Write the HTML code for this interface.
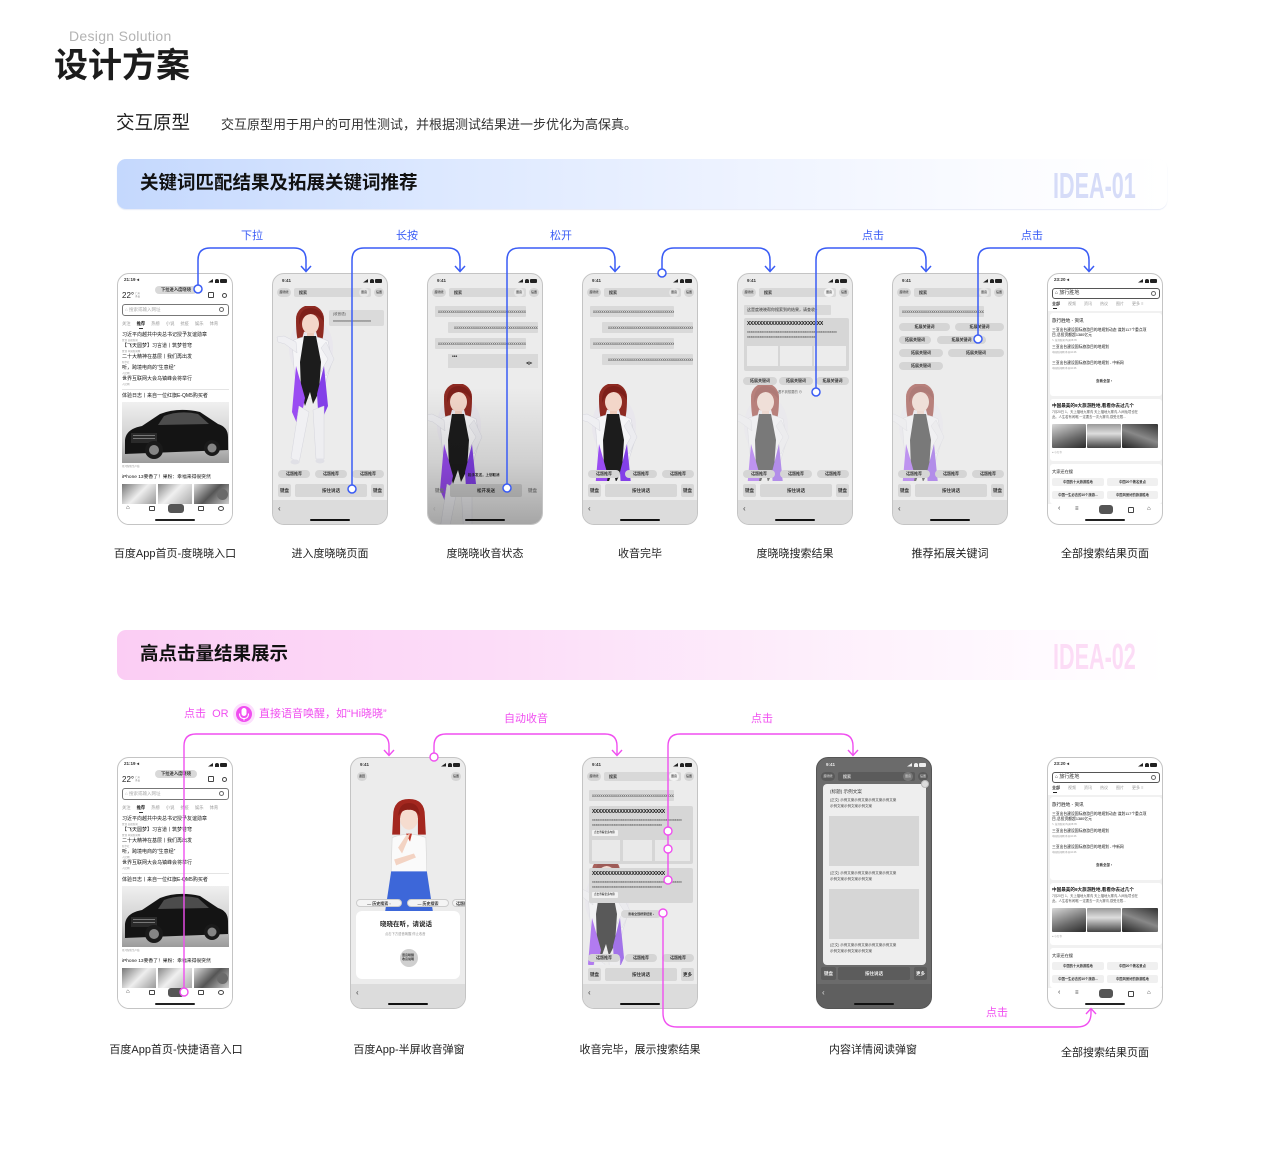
<!DOCTYPE html>
<html><head><meta charset="utf-8">
<style>
*{margin:0;padding:0;box-sizing:border-box}
body{width:1280px;height:1175px;background:#fff;position:relative;overflow:hidden;font-family:"Liberation Sans","Noto Sans CJK SC",sans-serif;}
.a{position:absolute}
.t{position:absolute;white-space:nowrap;line-height:1;color:#333}
.b{font-weight:bold}
.ph{position:absolute;width:116px;height:252px;border:1px solid #c4c4c4;border-radius:12px;overflow:hidden;background:#ececec}
.ph.w{background:#fff}
.bx{position:absolute;background:#d7d7d7;border-radius:2px;font-size:4.5px;font-weight:bold;color:#333;text-align:center;white-space:nowrap;overflow:hidden;height:13px;line-height:13px}
.cp{position:absolute;background:#d5d5d5;border-radius:5px;height:8px;line-height:8px;font-size:4px;font-weight:bold;color:#333;text-align:center;white-space:nowrap;overflow:hidden}
.bu{position:absolute;background:#d9d9d9;height:11px;font-size:4.2px;line-height:11px;padding-left:3px;color:#444;overflow:hidden;white-space:nowrap;border-radius:1px}
.nav{position:absolute;left:0;right:0;top:226px;bottom:0;background:#dcdcdc}
.bk{position:absolute;left:5px;top:231px;font-size:8px;color:#444;line-height:1}
.hb{position:absolute;left:37px;width:40px;height:2px;bottom:3px;background:#111;border-radius:1px}
.s1{position:absolute;top:5px;right:19px;width:5px;height:3.5px;background:#222;clip-path:polygon(100% 0,100% 100%,0 100%)}
.s2{position:absolute;top:5px;right:13px;width:4px;height:3.5px;background:#222;border-radius:50% 50% 0 0}
.s3{position:absolute;top:5px;right:5px;width:7px;height:3.5px;background:#222;border-radius:1px}
.hc{position:absolute;top:14px;height:9px;border-radius:5px;background:#d6d6d6;font-size:3px;line-height:9px;text-align:center;color:#444;font-weight:bold;white-space:nowrap;overflow:hidden}
.sbar{position:absolute;left:21px;top:14px;width:77px;height:9px;background:#d8d8d8;border-radius:2px}
.lb{position:absolute;width:200px;text-align:center;font-size:11px;color:#222;white-space:nowrap;line-height:14px}
.bot{position:absolute;left:0;top:207px;width:116px;height:20px;background:#ececec}
.nl{position:absolute;left:4px;font-size:5px;color:#111;white-space:nowrap;line-height:1}
.mt{position:absolute;left:4px;font-size:2.5px;color:#999;white-space:nowrap;line-height:1}
.tb span{display:inline-block;width:14.6px}
.img{position:absolute;background:linear-gradient(160deg,#d8d8d8,#6a6a6a 60%,#2a2a2a);border-radius:1px}
</style></head><body>

<svg width="0" height="0" style="position:absolute">
<defs>
<symbol id="g1" viewBox="0 0 60 160">
 <ellipse cx="36" cy="42" rx="22" ry="30" fill="#e6e2ee" opacity=".5"/>
 <path d="M21,14 Q21,34 25,40 L30,22Z" fill="#8e2a22"/>
 <path d="M49,14 Q49,34 45,40 L40,22Z" fill="#8e2a22"/>
 <ellipse cx="35" cy="13" rx="14" ry="14" fill="#8e2a22"/>
 <ellipse cx="35.5" cy="18" rx="8.5" ry="10" fill="#f3d6c9"/>
 <path d="M24,15 Q25,2 36,2 Q48,3 49,16 Q43,7 35,8 Q28,9 24,19Z" fill="#7d1f19"/>
 <rect x="32" y="27" width="7" height="6" fill="#eecbbb"/>
 <path d="M17,35 Q35,26 53,35 L57,56 L52,72 L47,92 L23,92 L19,62Z" fill="#f5f5f7" stroke="#d6d6de" stroke-width=".6"/>
 <path d="M21,36 L9,30 L2,31 L3,36 L10,38 L22,47Z" fill="#efeff2" stroke="#d6d6de" stroke-width=".5"/>
 <path d="M51,36 L59,53 L51,70 L46,65 L53,53 L46,42Z" fill="#ececf0" stroke="#d6d6de" stroke-width=".5"/>
 <path d="M29,30 L41,30 L46,56 L44,86 L38,98 L35,86 L30,100 L26,86 L25,56Z" fill="#1c1c1c"/>
 <path d="M21,60 L17,106 L24,122 L30,92Z" fill="#9a4cf2"/>
 <path d="M49,60 L53,100 L44,120 L42,88Z" fill="#8340e8"/>
 <path d="M24,100 L16,152 L24,157 L34,106Z" fill="#f0f0f3" stroke="#d6d6de" stroke-width=".5"/>
 <path d="M38,104 L41,153 L49,153 L49,100Z" fill="#eeeef1" stroke="#d6d6de" stroke-width=".5"/>
 <ellipse cx="20" cy="156" rx="4.5" ry="2.5" fill="#e0e0e6"/>
 <ellipse cx="45" cy="155" rx="4.5" ry="2.5" fill="#e0e0e6"/>
</symbol>
<symbol id="g2" viewBox="0 0 50 115">
 <path d="M9,18 Q9,1 25,1 Q41,1 41,18 L42,37 L34,37 L34,20 L16,20 L16,37 L8,37Z" fill="#a3271f"/>
 <ellipse cx="25" cy="21" rx="9" ry="11" fill="#f5dccf"/>
 <path d="M14,18 Q15,5 25,5 Q35,5 36,18 Q30,11 25,12 Q19,11 14,18Z" fill="#8e1f18"/>
 <path d="M8,40 Q25,33 42,40 L43,76 L7,76Z" fill="#fafafa" stroke="#d6d6d6" stroke-width=".6"/>
 <path d="M22,36 L28,36 L26,44Z" fill="#c0392b"/>
 <path d="M14,50 L22,38 L26,36 L24,42 L18,56Z" fill="#f3d3c3"/>
 <path d="M10,62 L30,56 L32,60 L12,68Z" fill="#f3d3c3"/>
 <path d="M7,74 L43,74 L49,114 L1,114Z" fill="#3d67d9"/>
</symbol>
<symbol id="car" viewBox="0 0 107 61">
 <linearGradient id="cg" x1="0" y1="0" x2="0" y2="1"><stop offset="0" stop-color="#f0f0f0"/><stop offset=".6" stop-color="#cfcfcf"/><stop offset="1" stop-color="#9a9a9a"/></linearGradient>
 <rect width="107" height="61" fill="url(#cg)"/>
 <path d="M3,38 Q4,27 20,24 L38,12 Q56,5 78,10 L96,22 Q106,25 106,35 L106,48 L3,52Z" fill="#141414"/>
 <path d="M42,14 Q58,8 76,12 L87,22 L36,23Z" fill="#4c4c4c"/>
 <rect x="9" y="31" width="26" height="10" fill="#2a2a2a"/>
 <rect x="11" y="33" width="22" height="1" fill="#777"/>
 <rect x="11" y="36" width="22" height="1" fill="#777"/>
 <circle cx="32" cy="48" r="9" fill="#1a1a1a"/><circle cx="32" cy="48" r="5" fill="#858585"/>
 <circle cx="90" cy="46" r="8" fill="#1a1a1a"/><circle cx="90" cy="46" r="4.5" fill="#858585"/>
</symbol>
</defs>
</svg>

<!-- Header -->
<div class="t" style="left:69px;top:29px;font-size:14px;color:#b3b3b3;letter-spacing:.3px">Design Solution</div>
<div class="t b" style="left:54px;top:49px;font-size:34px;color:#1c1c1c">设计方案</div>
<div class="t" style="left:116px;top:114px;font-size:18.5px;color:#222">交互原型</div>
<div class="t" style="left:221px;top:118px;font-size:13px;color:#333">交互原型用于用户的可用性测试，并根据测试结果进一步优化为高保真。</div>

<!-- Banner 1 -->
<div class="a" style="left:117px;top:159px;width:1050px;height:50px;border-radius:9px;background:linear-gradient(90deg,#c4d8fd 0%,#dce8ff 30%,#eef3ff 60%,#fbfcff 85%,#ffffff 100%);box-shadow:0 1px 1px rgba(150,170,220,.25)"></div>
<div class="t b" style="left:140px;top:174px;font-size:18.5px;color:#111">关键词匹配结果及拓展关键词推荐</div>
<div class="t b" style="left:1053px;top:168px;font-size:36px;color:#d6dcf8;transform:scaleX(.6);transform-origin:0 0">IDEA-01</div>

<!-- Banner 2 -->
<div class="a" style="left:117px;top:630px;width:1050px;height:50px;border-radius:9px;background:linear-gradient(90deg,#fbcdf4 0%,#fcdcf8 35%,#fdeefb 65%,#fffaff 88%,#ffffff 100%)"></div>
<div class="t b" style="left:140px;top:645px;font-size:18.5px;color:#111">高点击量结果展示</div>
<div class="t b" style="left:1053px;top:639px;font-size:36px;color:#fcdcf6;transform:scaleX(.6);transform-origin:0 0">IDEA-02</div>

<!-- ===== ROW 1 ===== -->
<!-- Phone 1 home -->
<div class="ph w" style="left:117px;top:273px">
 <div class="t b" style="left:6px;top:4px;font-size:4.5px">21:19 ◂</div>
 <i class="s1"></i><i class="s2"></i><i class="s3"></i>
 <div class="a" style="left:37px;top:12px;width:42px;height:8px;border-radius:4px;background:#d9d9d9;font-size:4.3px;line-height:8px;text-align:center;color:#333;white-space:nowrap;font-weight:bold">下拉进入度晓晓</div>
 <div class="t" style="left:4px;top:18px;font-size:8px;color:#222">22°</div>
 <div class="t" style="left:17px;top:19px;font-size:2.5px;color:#888">广州<br>多云</div>
 <div class="a" style="left:90px;top:18px;width:6px;height:6px;border:1px solid #444;border-radius:1px"></div>
 <div class="a" style="left:104px;top:19px;width:5px;height:5px;border:1px solid #444;border-radius:50%"></div>
 <div class="a" style="left:4px;top:30px;width:107px;height:12px;border:1px solid #777;border-radius:3px"></div>
 <div class="t" style="left:7px;top:33.5px;font-size:4.5px;color:#aaa">⌂ 搜索或输入网址</div>
 <div class="a" style="left:101px;top:33px;width:5px;height:5px;border:.8px solid #666;border-radius:50%"></div>
 <div class="t tb" style="left:4px;top:48px;font-size:4.3px;color:#999"><span>关注</span><span style="color:#222;font-weight:bold">推荐</span><span>热榜</span><span>小说</span><span>抗疫</span><span>娱乐</span><span>体育</span></div>
 <div class="a" style="left:21px;top:54px;width:4px;height:1px;background:#333"></div>
 <div class="nl" style="top:59px">习近平向越共中央总书记授予友谊勋章</div><div class="mt" style="top:65.5px">置顶 央视新闻</div>
 <div class="nl" style="top:70px">【飞天圆梦】习言道丨筑梦苍穹</div><div class="mt" style="top:76.5px">置顶 中国新闻网</div>
 <div class="nl" style="top:81px">二十大精神在基层丨我们再出发</div><div class="mt" style="top:87.5px">新华社</div>
 <div class="nl" style="top:92px">听，跨境电商的“生意经”</div><div class="mt" style="top:98.5px">人民网</div>
 <div class="nl" style="top:103px">世界互联网大会乌镇峰会将举行</div><div class="mt" style="top:109.5px">人民网</div>
 <div class="a" style="left:4px;top:115px;width:107px;height:.6px;background:#e4e4e4"></div>
 <div class="nl" style="top:120px">体验日志丨来自一位红旗E-QM5购买者</div>
 <svg class="a" style="left:4px;top:128px" width="107" height="61"><use href="#car"/></svg>
 <div class="mt" style="top:192px">星河智能生产线</div>
 <div class="nl" style="top:202px;font-size:4.8px">iPhone 13要香了！果粉：幸福来得很突然</div>
 <div class="a" style="left:4px;top:210px;width:34px;height:20px;background:linear-gradient(135deg,#777,#eee 50%,#999)"></div>
 <div class="a" style="left:40px;top:210px;width:34px;height:20px;background:linear-gradient(135deg,#888,#f0f0f0 45%,#aaa)"></div>
 <div class="a" style="left:76px;top:210px;width:35px;height:20px;background:linear-gradient(135deg,#ddd,#555 50%,#ccc)"></div>
 <div class="a" style="left:99px;top:215px;width:11px;height:11px;border-radius:50%;background:#6a6a6a"></div>
 <div class="a" style="left:0;top:230px;width:116px;height:22px;background:#fff"></div>
 <div class="t" style="left:8px;top:231px;font-size:6px;color:#333">⌂</div>
 <div class="a" style="left:31px;top:232px;width:6px;height:5px;border:1px solid #444;border-radius:1px"></div>
 <div class="a" style="left:50px;top:230px;width:16px;height:9px;border-radius:3px;background:#555"></div>
 <div class="a" style="left:80px;top:232px;width:6px;height:5px;border:1px solid #444;border-radius:1px"></div>
 <div class="a" style="left:100px;top:232px;width:6px;height:5px;border:1px solid #444;border-radius:50%"></div>
 <div class="hb" style="background:#222"></div>
</div>

<!-- Phone 2 -->
<div class="ph" style="left:272px;top:273px">
 <div class="t b" style="left:9px;top:5px;font-size:4.5px">9:41</div>
 <i class="s1"></i><i class="s2"></i><i class="s3"></i>
 <div class="hc" style="left:4px;width:14px">度晓晓</div>
 <div class="sbar"></div><div class="t b" style="left:26px;top:16.5px;font-size:4px">搜索</div>
 <div class="hc" style="left:86px;width:10px;background:#e6e6e6">语音</div>
 <div class="hc" style="left:101px;width:10px">设置</div>
 <div class="a" style="left:56px;top:36px;width:55px;height:16px;background:#dadada;border-radius:2px"></div>
 <div class="t" style="left:60px;top:39px;font-size:3.5px;color:#555">(收音语)</div>
 <div class="t" style="left:60px;top:45px;font-size:4px;color:#444">xxxxxxxxxxxxxxxxxxx</div>
 <svg class="a" style="left:2px;top:32px" width="60" height="160"><use href="#g1"/></svg>
 <div class="cp" style="left:5px;top:196px;width:32px">话题推荐</div>
 <div class="cp" style="left:42px;top:196px;width:32px">话题推荐</div>
 <div class="cp" style="left:79px;top:196px;width:32px">话题推荐</div>
 <div class="bx" style="left:5px;top:210px;width:13px">键盘</div>
 <div class="bx" style="left:22px;top:210px;width:72px">按住说话</div>
 <div class="bx" style="left:98px;top:210px;width:13px">键盘</div>
 <div class="nav"></div><div class="bk">‹</div><div class="hb"></div>
</div>

<!-- Phone 3 -->
<div class="ph" style="left:427px;top:273px">
 <div class="t b" style="left:9px;top:5px;font-size:4.5px">9:41</div>
 <i class="s1"></i><i class="s2"></i><i class="s3"></i>
 <div class="hc" style="left:4px;width:14px">度晓晓</div>
 <div class="sbar"></div><div class="t b" style="left:26px;top:16.5px;font-size:4px">搜索</div>
 <div class="hc" style="left:86px;width:10px;background:#e6e6e6">语音</div>
 <div class="hc" style="left:101px;width:10px">设置</div>
 <div class="bu" style="left:7px;top:32px;width:91px">xxxxxxxxxxxxxxxxxxxxxxxxxxxxxxxxxxxxxxxxxxxx</div>
 <div class="bu" style="left:20px;top:48px;width:90px;padding-left:6px">xxxxxxxxxxxxxxxxxxxxxxxxxxxxxxxxxxxxxxxxxxxxx</div>
 <div class="bu" style="left:7px;top:64px;width:91px">xxxxxxxxxxxxxxxxxxxxxxxxxxxxxxxxxxxxxxxxxxxx</div>
 <div class="a" style="left:20px;top:80px;width:90px;height:14px;background:#d9d9d9"></div>
 <div class="t b" style="left:24px;top:81px;font-size:5px">•••</div>
 <div class="t b" style="left:98px;top:87px;font-size:4px">◂||▸</div>
 <svg class="a" style="left:-5px;top:110px" width="60" height="160"><use href="#g1"/></svg>
 <div class="t b" style="left:40px;top:200px;font-size:3.5px;color:#222">松手发送，上划取消</div>
 <div class="bx" style="left:5px;top:210px;width:13px;background:transparent;color:#888">键盘</div>
 <div class="bx" style="left:22px;top:210px;width:72px;background:#d2d2d2">松开发送</div>
 <div class="bx" style="left:98px;top:210px;width:13px;background:transparent;color:#888">键盘</div>
 <div class="a" style="left:0;top:0;width:116px;height:252px;background:linear-gradient(to bottom,rgba(0,0,0,0) 45%,rgba(0,0,0,.12) 75%,rgba(0,0,0,.3) 100%)"></div>
 <div class="bk" style="color:#999">‹</div><div class="hb"></div>
</div>

<!-- Phone 4 -->
<div class="ph" style="left:582px;top:273px">
 <div class="t b" style="left:9px;top:5px;font-size:4.5px">9:41</div>
 <i class="s1"></i><i class="s2"></i><i class="s3"></i>
 <div class="hc" style="left:4px;width:14px">度晓晓</div>
 <div class="sbar"></div><div class="t b" style="left:26px;top:16.5px;font-size:4px">搜索</div>
 <div class="hc" style="left:86px;width:10px;background:#e6e6e6">语音</div>
 <div class="hc" style="left:101px;width:10px">设置</div>
 <div class="bu" style="left:7px;top:32px;width:84px">xxxxxxxxxxxxxxxxxxxxxxxxxxxxxxxxxxxxxxxxxxxx</div>
 <div class="bu" style="left:19px;top:48px;width:91px;padding-left:6px">xxxxxxxxxxxxxxxxxxxxxxxxxxxxxxxxxxxxxxxxxxxxx</div>
 <div class="bu" style="left:7px;top:64px;width:84px">xxxxxxxxxxxxxxxxxxxxxxxxxxxxxxxxxxxxxxxxxxxx</div>
 <div class="bu" style="left:19px;top:80px;width:91px;padding-left:6px">xxxxxxxxxxxxxxxxxxxxxxxxxxxxxxxxxxxxxxxxxxxxx</div>
 <svg class="a" style="left:-5px;top:110px" width="60" height="160"><use href="#g1"/></svg>
 <div class="bot"></div>
 <div class="cp" style="left:5px;top:196px;width:32px">话题推荐</div>
 <div class="cp" style="left:42px;top:196px;width:32px">话题推荐</div>
 <div class="cp" style="left:79px;top:196px;width:32px">话题推荐</div>
 <div class="bx" style="left:5px;top:210px;width:13px">键盘</div>
 <div class="bx" style="left:22px;top:210px;width:72px">按住说话</div>
 <div class="bx" style="left:98px;top:210px;width:13px">键盘</div>
 <div class="nav"></div><div class="bk">‹</div><div class="hb"></div>
</div>

<!-- Phone 5 -->
<div class="ph" style="left:737px;top:273px">
 <div class="t b" style="left:9px;top:5px;font-size:4.5px">9:41</div>
 <i class="s1"></i><i class="s2"></i><i class="s3"></i>
 <div class="hc" style="left:4px;width:14px">度晓晓</div>
 <div class="sbar"></div><div class="t b" style="left:26px;top:16.5px;font-size:4px">搜索</div>
 <div class="hc" style="left:86px;width:10px;background:#f2f2f2">语音</div>
 <div class="hc" style="left:101px;width:10px">设置</div>
 <div class="bu" style="left:6px;top:31px;width:87px;height:10px;line-height:10px;font-size:4px;color:#333">这是度晓晓帮你搜索到的结果，请查收~</div>
 <svg class="a" style="left:-8px;top:110px;opacity:.55" width="60" height="160"><use href="#g1"/></svg>
 <div class="a" style="left:6px;top:44px;width:105px;height:53px;background:#d6d6d6;border-radius:2px"></div>
 <div class="t b" style="left:9px;top:48px;font-size:5px;color:#111;letter-spacing:-.3px">XXXXXXXXXXXXXXXXXXXXXXXXX</div>
 <div class="t" style="left:9px;top:57px;font-size:3.6px;color:#444">xxxxxxxxxxxxxxxxxxxxxxxxxxxxxxxxxxxxxxxxxxxxxxxxxx</div>
 <div class="t" style="left:9px;top:62px;font-size:3.6px;color:#444">xxxxxxxxxxxxxxxxxxxxxxxxxxxxxxxxxxxxxx</div>
 <div class="a" style="left:9px;top:72px;width:31px;height:20px;background:#ececec"></div>
 <div class="a" style="left:42px;top:72px;width:32px;height:20px;background:#ececec"></div>
 <div class="a" style="left:76px;top:72px;width:32px;height:20px;background:#ececec"></div>
 <div class="cp" style="left:5px;top:103px;width:34px">拓展关键词</div>
 <div class="cp" style="left:41px;top:103px;width:34px">拓展关键词</div>
 <div class="cp" style="left:78px;top:103px;width:33px">拓展关键词</div>
 <div class="t" style="left:40px;top:117px;font-size:3.3px;color:#666">看不到想要的 ⊖</div>
 <div class="bot"></div>
 <div class="cp" style="left:5px;top:196px;width:32px">话题推荐</div>
 <div class="cp" style="left:42px;top:196px;width:32px">话题推荐</div>
 <div class="cp" style="left:79px;top:196px;width:32px">话题推荐</div>
 <div class="bx" style="left:5px;top:210px;width:13px">键盘</div>
 <div class="bx" style="left:22px;top:210px;width:72px">按住说话</div>
 <div class="bx" style="left:98px;top:210px;width:13px">键盘</div>
 <div class="nav"></div><div class="bk">‹</div><div class="hb"></div>
</div>

<!-- Phone 6 -->
<div class="ph" style="left:892px;top:273px">
 <div class="t b" style="left:9px;top:5px;font-size:4.5px">9:41</div>
 <i class="s1"></i><i class="s2"></i><i class="s3"></i>
 <div class="hc" style="left:4px;width:14px">度晓晓</div>
 <div class="sbar"></div><div class="t b" style="left:26px;top:16.5px;font-size:4px">搜索</div>
 <div class="hc" style="left:86px;width:10px;background:#e6e6e6">语音</div>
 <div class="hc" style="left:101px;width:10px">设置</div>
 <div class="bu" style="left:6px;top:32px;width:85px">xxxxxxxxxxxxxxxxxxxxxxxxxxxxxxxxxxxxxxxx</div>
 <svg class="a" style="left:-8px;top:110px;opacity:.55" width="60" height="160"><use href="#g1"/></svg>
 <div class="cp" style="left:6px;top:49px;width:51px">拓展关键词</div>
 <div class="cp" style="left:62px;top:49px;width:49px">拓展关键词</div>
 <div class="cp" style="left:6px;top:62px;width:32px">拓展关键词</div>
 <div class="cp" style="left:44px;top:62px;width:49px">拓展关键词</div>
 <div class="cp" style="left:6px;top:75px;width:44px">拓展关键词</div>
 <div class="cp" style="left:55px;top:75px;width:56px">拓展关键词</div>
 <div class="cp" style="left:6px;top:88px;width:44px">拓展关键词</div>
 <div class="bot"></div>
 <div class="cp" style="left:5px;top:196px;width:32px">话题推荐</div>
 <div class="cp" style="left:42px;top:196px;width:32px">话题推荐</div>
 <div class="cp" style="left:79px;top:196px;width:32px">话题推荐</div>
 <div class="bx" style="left:5px;top:210px;width:13px">键盘</div>
 <div class="bx" style="left:22px;top:210px;width:72px">按住说话</div>
 <div class="bx" style="left:98px;top:210px;width:13px">键盘</div>
 <div class="nav"></div><div class="bk">‹</div><div class="hb"></div>
</div>

<!-- Phone 7 results -->
<div class="ph w" style="left:1047px;top:273px">
 <div class="t b" style="left:6px;top:4px;font-size:4.5px">23:20 ◂</div>
 <i class="s1"></i><i class="s2"></i><i class="s3"></i>
 <div class="a" style="left:4px;top:14px;width:108px;height:11px;border:1px solid #555;border-radius:3px"></div>
 <div class="t" style="left:7px;top:17px;font-size:5px;color:#333">⌂ 旅行胜地</div>
 <div class="a" style="left:103px;top:16.5px;width:5px;height:5px;border:.8px solid #666;border-radius:50%"></div>
 <div class="t tb" style="left:4px;top:28px;font-size:4px;color:#999"><span style="width:16px;color:#222;font-weight:bold">全部</span><span style="width:16px">视频</span><span style="width:16px">资讯</span><span style="width:16px">热议</span><span style="width:16px">图片</span><span>更多 ≡</span></div>
 <div class="a" style="left:5px;top:34px;width:4px;height:1px;background:#222"></div>
 <div class="a" style="left:0;top:37px;width:116px;height:193px;background:#f1f1f1"></div>
 <div class="a" style="left:2px;top:39px;width:112px;height:83px;background:#fff;border-radius:3px"></div>
 <div class="nl" style="top:45px;font-size:4.6px">旅行胜地 - 资讯</div>
 <div class="nl" style="top:55px;font-size:3.8px">三亚出台建设国际旅游目的地规划动态 谋划117个重点项</div>
 <div class="nl" style="top:60px;font-size:3.8px">目,总投资额超1380亿元</div>
 <div class="mt" style="top:65.5px">✎ 澎湃新闻 昨天08:35</div>
 <div class="nl" style="top:72px;font-size:3.8px">三亚出台建设国际旅游目的地规划</div>
 <div class="mt" style="top:78px">中国新闻网 昨天10:46</div>
 <div class="nl" style="top:88px;font-size:3.8px">三亚出台建设国际旅游目的地规划 - 中新网</div>
 <div class="mt" style="top:94px">中国新闻网 昨天10:46</div>
 <div class="t b" style="left:48px;top:106px;font-size:3.5px;color:#333">查看全部 ›</div>
 <div class="a" style="left:2px;top:125px;width:112px;height:62px;background:#fff;border-radius:3px"></div>
 <div class="nl b" style="top:130px;font-size:4.6px">中国最美的9大旅游胜地,看看你去过几个</div>
 <div class="nl" style="top:137px;font-size:3.3px;color:#555">7月20日 1、天上福地九寨沟 天上福地九寨沟,人间仙境也在</div>
 <div class="nl" style="top:142px;font-size:3.3px;color:#555">此。人生若有闲暇,一定要去一次九寨沟,感受无限...</div>
 <div class="img" style="left:4px;top:150px;width:34px;height:24px"></div>
 <div class="img" style="left:39px;top:150px;width:34px;height:24px;background:linear-gradient(180deg,#999,#ddd 40%,#444)"></div>
 <div class="img" style="left:74px;top:150px;width:36px;height:24px;background:linear-gradient(200deg,#333,#888 50%,#222)"></div>
 <div class="mt" style="top:178px">● 小红书</div>
 <div class="a" style="left:2px;top:190px;width:112px;height:40px;background:#fff;border-radius:3px"></div>
 <div class="nl" style="top:196px;font-size:4.2px">大家还在搜</div>
 <div class="cp" style="left:4px;top:204px;width:52px;border-radius:2px;background:#f0f0f0;font-size:3.3px">中国的十大旅游胜地</div>
 <div class="cp" style="left:59px;top:204px;width:51px;border-radius:2px;background:#f0f0f0;font-size:3.3px">中国20个著名景点</div>
 <div class="cp" style="left:4px;top:217px;width:52px;border-radius:2px;background:#f0f0f0;font-size:3.3px">中国一生必去的10个旅游...</div>
 <div class="cp" style="left:59px;top:217px;width:51px;border-radius:2px;background:#f0f0f0;font-size:3.3px">中国风景好的旅游胜地</div>
 <div class="t" style="left:10px;top:231px;font-size:7px;color:#333">‹</div>
 <div class="t" style="left:27px;top:232px;font-size:6px;color:#333">≡</div>
 <div class="a" style="left:51px;top:231px;width:14px;height:9px;border-radius:3px;background:#555"></div>
 <div class="a" style="left:80px;top:233px;width:6px;height:6px;border:1px solid #444;border-radius:1px"></div>
 <div class="t" style="left:99px;top:232px;font-size:6px;color:#333">⌂</div>
 <div class="hb" style="background:#222"></div>
</div>

<!-- Row 1 labels -->
<div class="lb" style="left:75px;top:547px">百度App首页-度晓晓入口</div>
<div class="lb" style="left:230px;top:547px">进入度晓晓页面</div>
<div class="lb" style="left:385px;top:547px">度晓晓收音状态</div>
<div class="lb" style="left:540px;top:547px">收音完毕</div>
<div class="lb" style="left:695px;top:547px">度晓晓搜索结果</div>
<div class="lb" style="left:850px;top:547px">推荐拓展关键词</div>
<div class="lb" style="left:1005px;top:547px">全部搜索结果页面</div>

<!-- ===== ROW 2 ===== -->
<!-- Phone A -->
<div class="ph w" style="left:117px;top:757px">
 <div class="t b" style="left:6px;top:4px;font-size:4.5px">21:19 ◂</div>
 <i class="s1"></i><i class="s2"></i><i class="s3"></i>
 <div class="a" style="left:37px;top:12px;width:42px;height:8px;border-radius:4px;background:#d9d9d9;font-size:4.3px;line-height:8px;text-align:center;color:#333;white-space:nowrap;font-weight:bold">下拉进入度晓晓</div>
 <div class="t" style="left:4px;top:18px;font-size:8px;color:#222">22°</div>
 <div class="t" style="left:17px;top:19px;font-size:2.5px;color:#888">广州<br>多云</div>
 <div class="a" style="left:90px;top:18px;width:6px;height:6px;border:1px solid #444;border-radius:1px"></div>
 <div class="a" style="left:104px;top:19px;width:5px;height:5px;border:1px solid #444;border-radius:50%"></div>
 <div class="a" style="left:4px;top:30px;width:107px;height:12px;border:1px solid #777;border-radius:3px"></div>
 <div class="t" style="left:7px;top:33.5px;font-size:4.5px;color:#aaa">⌂ 搜索或输入网址</div>
 <div class="a" style="left:101px;top:33px;width:5px;height:5px;border:.8px solid #666;border-radius:50%"></div>
 <div class="t tb" style="left:4px;top:48px;font-size:4.3px;color:#999"><span>关注</span><span style="color:#222;font-weight:bold">推荐</span><span>热榜</span><span>小说</span><span>抗疫</span><span>娱乐</span><span>体育</span></div>
 <div class="a" style="left:21px;top:54px;width:4px;height:1px;background:#333"></div>
 <div class="nl" style="top:59px">习近平向越共中央总书记授予友谊勋章</div><div class="mt" style="top:65.5px">置顶 央视新闻</div>
 <div class="nl" style="top:70px">【飞天圆梦】习言道丨筑梦苍穹</div><div class="mt" style="top:76.5px">置顶 中国新闻网</div>
 <div class="nl" style="top:81px">二十大精神在基层丨我们再出发</div><div class="mt" style="top:87.5px">新华社</div>
 <div class="nl" style="top:92px">听，跨境电商的“生意经”</div><div class="mt" style="top:98.5px">人民网</div>
 <div class="nl" style="top:103px">世界互联网大会乌镇峰会将举行</div><div class="mt" style="top:109.5px">人民网</div>
 <div class="a" style="left:4px;top:115px;width:107px;height:.6px;background:#e4e4e4"></div>
 <div class="nl" style="top:120px">体验日志丨来自一位红旗E-QM5购买者</div>
 <svg class="a" style="left:4px;top:128px" width="107" height="61"><use href="#car"/></svg>
 <div class="mt" style="top:192px">星河智能生产线</div>
 <div class="nl" style="top:202px;font-size:4.8px">iPhone 13要香了！果粉：幸福来得很突然</div>
 <div class="a" style="left:4px;top:210px;width:34px;height:20px;background:linear-gradient(135deg,#777,#eee 50%,#999)"></div>
 <div class="a" style="left:40px;top:210px;width:34px;height:20px;background:linear-gradient(135deg,#888,#f0f0f0 45%,#aaa)"></div>
 <div class="a" style="left:76px;top:210px;width:35px;height:20px;background:linear-gradient(135deg,#ddd,#555 50%,#ccc)"></div>
 <div class="a" style="left:99px;top:215px;width:11px;height:11px;border-radius:50%;background:#6a6a6a"></div>
 <div class="a" style="left:0;top:230px;width:116px;height:22px;background:#fff"></div>
 <div class="t" style="left:8px;top:231px;font-size:6px;color:#333">⌂</div>
 <div class="a" style="left:31px;top:232px;width:6px;height:5px;border:1px solid #444;border-radius:1px"></div>
 <div class="a" style="left:50px;top:230px;width:16px;height:9px;border-radius:3px;background:#555"></div>
 <div class="a" style="left:80px;top:232px;width:6px;height:5px;border:1px solid #444;border-radius:1px"></div>
 <div class="a" style="left:100px;top:232px;width:6px;height:5px;border:1px solid #444;border-radius:50%"></div>
 <div class="hb" style="background:#222"></div>
</div>

<!-- Phone B half-screen -->
<div class="ph" style="left:350px;top:757px">
 <div class="t b" style="left:9px;top:5px;font-size:4.5px">9:41</div>
 <i class="s1"></i><i class="s2"></i><i class="s3"></i>
 <div class="hc" style="left:6px;width:10px">返回</div>
 <div class="hc" style="left:100px;width:10px">设置</div>
 <svg class="a" style="left:33px;top:40px" width="50" height="114"><use href="#g2"/></svg>
 <div class="cp" style="left:5px;top:141px;width:46px;background:#f4f4f4;border:.6px solid #ccc">— 历史搜索 ▫</div>
 <div class="cp" style="left:56px;top:141px;width:42px;background:#f4f4f4;border:.6px solid #ccc">— 历史搜索</div>
 <div class="cp" style="left:101px;top:141px;width:30px;background:#f4f4f4;border:.6px solid #ccc;text-align:left;padding-left:3px">话题推荐</div>
 <div class="a" style="left:5px;top:153px;width:104px;height:68px;background:#fff;border-radius:6px"></div>
 <div class="t b" style="left:29px;top:164px;font-size:6.5px;color:#222">晓晓在听，请说话</div>
 <div class="t" style="left:34px;top:175px;font-size:3.3px;color:#999">点击下方语音唤醒 停止收音</div>
 <div class="a" style="left:49px;top:191px;width:18px;height:18px;border-radius:50%;background:#cfcfcf"></div>
 <div class="t b" style="left:51px;top:196px;font-size:3px;color:#333;line-height:1.3">语音唤醒<br>收音说明</div>
 <div class="nav"></div><div class="bk">‹</div><div class="hb"></div>
</div>

<!-- Phone C -->
<div class="ph" style="left:582px;top:757px">
 <div class="t b" style="left:9px;top:5px;font-size:4.5px">9:41</div>
 <i class="s1"></i><i class="s2"></i><i class="s3"></i>
 <div class="hc" style="left:4px;width:14px">度晓晓</div>
 <div class="sbar"></div><div class="t b" style="left:26px;top:16.5px;font-size:4px">搜索</div>
 <div class="hc" style="left:86px;width:10px;background:#f2f2f2">语音</div>
 <div class="hc" style="left:101px;width:10px">设置</div>
 <div class="bu" style="left:6px;top:32px;width:85px">xxxxxxxxxxxxxxxxxxxxxxxxxxxxxxxxxxxxxxxx</div>
 <svg class="a" style="left:-12px;top:100px;opacity:.7" width="60" height="160"><use href="#g1"/></svg>
 <div class="a" style="left:6px;top:48px;width:104px;height:58px;background:#d6d6d6;border-radius:2px"></div>
 <div class="t b" style="left:9px;top:52px;font-size:5px;color:#111;letter-spacing:-.3px">XXXXXXXXXXXXXXXXXXXXXXXX</div>
 <div class="t" style="left:9px;top:61px;font-size:3.6px;color:#444">xxxxxxxxxxxxxxxxxxxxxxxxxxxxxxxxxxxxxxxxxxxxxxxxxx</div>
 <div class="t" style="left:9px;top:66px;font-size:3.6px;color:#444">xxxxxxxxxxxxxxxxxxxxxxxxxxxxxxxxxxxxxxx</div>
 <div class="a" style="left:9px;top:72px;width:26px;height:6px;background:#f2f2f2;border-radius:1px;font-size:2.6px;line-height:6px;padding-left:2px;white-space:nowrap;overflow:hidden">点击查看更多内容</div>
 <div class="a" style="left:9px;top:82px;width:28px;height:21px;background:#e9e9e9"></div>
 <div class="a" style="left:40px;top:82px;width:29px;height:21px;background:#e9e9e9"></div>
 <div class="a" style="left:72px;top:82px;width:35px;height:21px;background:#e9e9e9"></div>
 <div class="a" style="left:6px;top:110px;width:104px;height:35px;background:#d6d6d6;border-radius:2px"></div>
 <div class="t b" style="left:9px;top:114px;font-size:5px;color:#111;letter-spacing:-.3px">XXXXXXXXXXXXXXXXXXXXXXXX</div>
 <div class="t" style="left:9px;top:123px;font-size:3.6px;color:#444">xxxxxxxxxxxxxxxxxxxxxxxxxxxxxxxxxxxxxxxxxxxxxxxxxx</div>
 <div class="t" style="left:9px;top:128px;font-size:3.6px;color:#444">xxxxxxxxxxxxxxxxxxxxxxxxxxxxxxxxxxxxxxx</div>
 <div class="a" style="left:9px;top:134px;width:26px;height:6px;background:#f2f2f2;border-radius:1px;font-size:2.6px;line-height:6px;padding-left:2px;white-space:nowrap;overflow:hidden">点击查看更多内容</div>
 <div class="cp" style="left:38px;top:152px;width:40px;background:#d8d8d8;font-size:3px">查看全部搜索结果 ›</div>
 <div class="bot"></div>
 <div class="cp" style="left:5px;top:196px;width:32px">话题推荐</div>
 <div class="cp" style="left:42px;top:196px;width:32px">话题推荐</div>
 <div class="cp" style="left:79px;top:196px;width:32px">话题推荐</div>
 <div class="bx" style="left:5px;top:210px;width:13px">键盘</div>
 <div class="bx" style="left:22px;top:210px;width:72px">按住说话</div>
 <div class="bx" style="left:98px;top:210px;width:13px">更多</div>
 <div class="nav"></div><div class="bk">‹</div><div class="hb"></div>
</div>

<!-- Phone D dark -->
<div class="ph" style="left:816px;top:757px;background:#6b6b6b;border-color:#555">
 <div class="t b" style="left:9px;top:5px;font-size:4.5px;color:#eee">9:41</div>
 <i class="s1" style="background:#eee"></i><i class="s2" style="background:#eee"></i><i class="s3" style="background:#eee"></i>
 <div class="hc" style="left:4px;width:14px;background:#5a5a5a;color:#ccc">度晓晓</div>
 <div class="sbar" style="background:#5b5b5b"></div><div class="t b" style="left:26px;top:16.5px;font-size:4px;color:#ddd">搜索</div>
 <div class="hc" style="left:86px;width:10px;background:#777;color:#ccc">语音</div>
 <div class="hc" style="left:101px;width:10px;background:#5a5a5a;color:#ccc">设置</div>
 <div class="a" style="left:6px;top:26px;width:103px;height:181px;background:#eeeeee;border-radius:4px"></div>
 <div class="a" style="left:104px;top:22px;width:8px;height:8px;border-radius:50%;background:#ddd;border:1px solid #bbb"></div>
 <div class="t" style="left:13px;top:32px;font-size:4.6px;color:#333">(标题) 示例文案</div>
 <div class="t" style="left:13px;top:41px;font-size:3.5px;color:#444">(正文) 示例文案示例文案示例文案示例文案</div>
 <div class="t" style="left:13px;top:47px;font-size:3.5px;color:#444">示例文案示例文案示例文案</div>
 <div class="a" style="left:12px;top:58px;width:90px;height:50px;background:#d6d6d6"></div>
 <div class="t" style="left:13px;top:114px;font-size:3.5px;color:#444">(正文) 示例文案示例文案示例文案示例文案</div>
 <div class="t" style="left:13px;top:120px;font-size:3.5px;color:#444">示例文案示例文案示例文案</div>
 <div class="a" style="left:12px;top:131px;width:90px;height:50px;background:#d6d6d6"></div>
 <div class="t" style="left:13px;top:186px;font-size:3.5px;color:#444">(正文) 示例文案示例文案示例文案示例文案</div>
 <div class="t" style="left:13px;top:192px;font-size:3.5px;color:#444">示例文案示例文案示例文案</div>
 <div class="bx" style="left:4px;top:209px;width:15px;background:#5c5c5c;color:#eee">键盘</div>
 <div class="bx" style="left:21px;top:209px;width:72px;background:#5c5c5c;color:#eee">按住说话</div>
 <div class="bx" style="left:97px;top:209px;width:13px;background:#5c5c5c;color:#eee">更多</div>
 <div class="nav" style="background:#5f5f5f"></div><div class="bk" style="color:#ddd">‹</div><div class="hb"></div>
</div>

<!-- Phone E results -->
<div class="ph w" style="left:1047px;top:757px">
 <div class="t b" style="left:6px;top:4px;font-size:4.5px">23:20 ◂</div>
 <i class="s1"></i><i class="s2"></i><i class="s3"></i>
 <div class="a" style="left:4px;top:14px;width:108px;height:11px;border:1px solid #555;border-radius:3px"></div>
 <div class="t" style="left:7px;top:17px;font-size:5px;color:#333">⌂ 旅行胜地</div>
 <div class="a" style="left:103px;top:16.5px;width:5px;height:5px;border:.8px solid #666;border-radius:50%"></div>
 <div class="t tb" style="left:4px;top:28px;font-size:4px;color:#999"><span style="width:16px;color:#222;font-weight:bold">全部</span><span style="width:16px">视频</span><span style="width:16px">资讯</span><span style="width:16px">热议</span><span style="width:16px">图片</span><span>更多 ≡</span></div>
 <div class="a" style="left:5px;top:34px;width:4px;height:1px;background:#222"></div>
 <div class="a" style="left:0;top:37px;width:116px;height:193px;background:#f1f1f1"></div>
 <div class="a" style="left:2px;top:39px;width:112px;height:83px;background:#fff;border-radius:3px"></div>
 <div class="nl" style="top:45px;font-size:4.6px">旅行胜地 - 资讯</div>
 <div class="nl" style="top:55px;font-size:3.8px">三亚出台建设国际旅游目的地规划动态 谋划117个重点项</div>
 <div class="nl" style="top:60px;font-size:3.8px">目,总投资额超1380亿元</div>
 <div class="mt" style="top:65.5px">✎ 澎湃新闻 昨天08:35</div>
 <div class="nl" style="top:72px;font-size:3.8px">三亚出台建设国际旅游目的地规划</div>
 <div class="mt" style="top:78px">中国新闻网 昨天10:46</div>
 <div class="nl" style="top:88px;font-size:3.8px">三亚出台建设国际旅游目的地规划 - 中新网</div>
 <div class="mt" style="top:94px">中国新闻网 昨天10:46</div>
 <div class="t b" style="left:48px;top:106px;font-size:3.5px;color:#333">查看全部 ›</div>
 <div class="a" style="left:2px;top:125px;width:112px;height:62px;background:#fff;border-radius:3px"></div>
 <div class="nl b" style="top:130px;font-size:4.6px">中国最美的9大旅游胜地,看看你去过几个</div>
 <div class="nl" style="top:137px;font-size:3.3px;color:#555">7月20日 1、天上福地九寨沟 天上福地九寨沟,人间仙境也在</div>
 <div class="nl" style="top:142px;font-size:3.3px;color:#555">此。人生若有闲暇,一定要去一次九寨沟,感受无限...</div>
 <div class="img" style="left:4px;top:150px;width:34px;height:24px"></div>
 <div class="img" style="left:39px;top:150px;width:34px;height:24px;background:linear-gradient(180deg,#999,#ddd 40%,#444)"></div>
 <div class="img" style="left:74px;top:150px;width:36px;height:24px;background:linear-gradient(200deg,#333,#888 50%,#222)"></div>
 <div class="mt" style="top:178px">● 小红书</div>
 <div class="a" style="left:2px;top:190px;width:112px;height:40px;background:#fff;border-radius:3px"></div>
 <div class="nl" style="top:196px;font-size:4.2px">大家还在搜</div>
 <div class="cp" style="left:4px;top:204px;width:52px;border-radius:2px;background:#f0f0f0;font-size:3.3px">中国的十大旅游胜地</div>
 <div class="cp" style="left:59px;top:204px;width:51px;border-radius:2px;background:#f0f0f0;font-size:3.3px">中国20个著名景点</div>
 <div class="cp" style="left:4px;top:217px;width:52px;border-radius:2px;background:#f0f0f0;font-size:3.3px">中国一生必去的10个旅游...</div>
 <div class="cp" style="left:59px;top:217px;width:51px;border-radius:2px;background:#f0f0f0;font-size:3.3px">中国风景好的旅游胜地</div>
 <div class="t" style="left:10px;top:231px;font-size:7px;color:#333">‹</div>
 <div class="t" style="left:27px;top:232px;font-size:6px;color:#333">≡</div>
 <div class="a" style="left:51px;top:231px;width:14px;height:9px;border-radius:3px;background:#555"></div>
 <div class="a" style="left:80px;top:233px;width:6px;height:6px;border:1px solid #444;border-radius:1px"></div>
 <div class="t" style="left:99px;top:232px;font-size:6px;color:#333">⌂</div>
 <div class="hb" style="background:#222"></div>
</div>

<!-- Row 2 labels -->
<div class="lb" style="left:76px;top:1043px">百度App首页-快捷语音入口</div>
<div class="lb" style="left:309px;top:1043px">百度App-半屏收音弹窗</div>
<div class="lb" style="left:540px;top:1043px">收音完毕，展示搜索结果</div>
<div class="lb" style="left:773px;top:1043px">内容详情阅读弹窗</div>
<div class="lb" style="left:1005px;top:1046px">全部搜索结果页面</div>

<!-- Connector labels row 1 -->
<div class="t" style="left:241px;top:231px;font-size:11px;color:#3a5cf5">下拉</div>
<div class="t" style="left:396px;top:231px;font-size:11px;color:#3a5cf5">长按</div>
<div class="t" style="left:550px;top:231px;font-size:11px;color:#3a5cf5">松开</div>
<div class="t" style="left:862px;top:231px;font-size:11px;color:#3a5cf5">点击</div>
<div class="t" style="left:1021px;top:231px;font-size:11px;color:#3a5cf5">点击</div>

<!-- Connector labels row 2 -->
<div class="t" style="left:184px;top:709px;font-size:11px;color:#f04ff0">点击&nbsp;&nbsp;OR</div>
<div class="t" style="left:259px;top:709px;font-size:11px;color:#f04ff0">直接语音唤醒，如“Hi晓晓”</div>
<div class="t" style="left:504px;top:714px;font-size:11px;color:#f04ff0">自动收音</div>
<div class="t" style="left:751px;top:714px;font-size:11px;color:#f04ff0">点击</div>
<div class="t" style="left:986px;top:1008px;font-size:11px;color:#f04ff0">点击</div>

<!-- Connectors overlay -->
<svg class="a" style="left:0;top:0" width="1280" height="1175">
 <g fill="none" stroke="#3a5cf5" stroke-width="1.5">
  <path d="M198,289 V260 Q198,248 210,248 H294 Q306,248 306,260 V271"/>
  <path d="M301,266 L306,271.5 L311,266"/>
  <path d="M352,489 V260 Q352,248 364,248 H448 Q460,248 460,260 V271"/>
  <path d="M455,266 L460,271.5 L465,266"/>
  <path d="M507,488 V260 Q507,248 519,248 H603 Q615,248 615,260 V271"/>
  <path d="M610,266 L615,271.5 L620,266"/>
  <path d="M662,273 V260 Q662,248 674,248 H758 Q770,248 770,260 V271"/>
  <path d="M765,266 L770,271.5 L775,266"/>
  <path d="M816,392 V260 Q816,248 828,248 H914 Q926,248 926,260 V271"/>
  <path d="M921,266 L926,271.5 L931,266"/>
  <path d="M978,339 V260 Q978,248 990,248 H1077 Q1089,248 1089,260 V271"/>
  <path d="M1084,266 L1089,271.5 L1094,266"/>
 </g>
 <g fill="#fff" stroke="#3a5cf5" stroke-width="1.5">
  <circle cx="198" cy="289" r="4"/>
  <circle cx="352" cy="489" r="4"/>
  <circle cx="507" cy="488" r="4"/>
  <circle cx="662" cy="273" r="4"/>
  <circle cx="816" cy="392" r="4"/>
  <circle cx="978" cy="339" r="4"/>
 </g>
 <g fill="none" stroke="#f04ff0" stroke-width="1.4">
  <path d="M184,992 V746 Q184,734 196,734 H377 Q389,734 389,746 V755"/>
  <path d="M384,750 L389,755.5 L394,750"/>
  <path d="M434,757 V746 Q434,734 446,734 H605 Q617,734 617,746 V755"/>
  <path d="M612,750 L617,755.5 L622,750"/>
  <path d="M668,880 V746 Q668,734 680,734 H841 Q853,734 853,746 V755"/>
  <path d="M848,750 L853,755.5 L858,750"/>
  <path d="M663,913 V1013 Q663,1027 677,1027 H1077 Q1091,1027 1091,1013 V1009"/>
  <path d="M1086,1014 L1091,1008.5 L1096,1014"/>
 </g>
 <g fill="#fff" stroke="#f04ff0" stroke-width="1.4">
  <circle cx="184" cy="992" r="4"/>
  <circle cx="434" cy="757" r="4"/>
  <circle cx="668" cy="831" r="4"/>
  <circle cx="668" cy="849" r="4"/>
  <circle cx="668" cy="880" r="4"/>
  <circle cx="663" cy="913" r="4"/>
 </g>
 <circle cx="244" cy="714" r="11" fill="#f04ff0" opacity=".18"/>
 <circle cx="244" cy="714" r="8" fill="#f04ff0"/>
 <rect x="241.5" y="708" width="5" height="8" rx="2.5" fill="#fff"/>
 <path d="M239.5,713.5 Q239.5,718.5 244,718.5 Q248.5,718.5 248.5,713.5" fill="none" stroke="#fff" stroke-width="1"/>
 <path d="M244,718.5 V720.5" stroke="#fff" stroke-width="1"/>
</svg>

</body></html>
